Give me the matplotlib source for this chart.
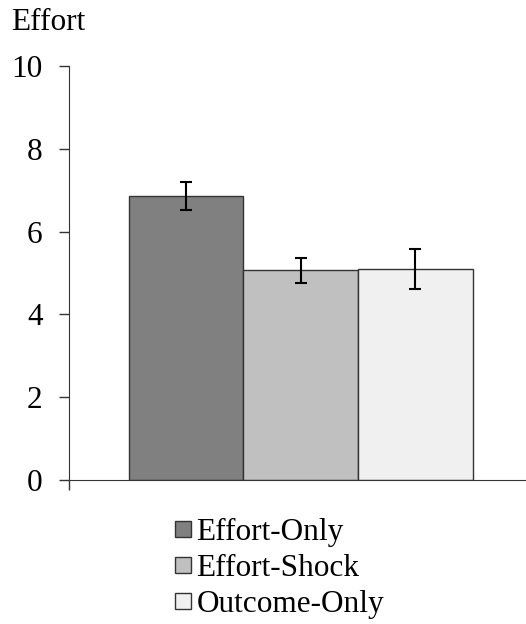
import matplotlib.pyplot as plt
from matplotlib.lines import Line2D

plt.rcParams['font.family'] = ['Liberation Serif', 'DejaVu Serif']

groups = ['Effort-Only', 'Effort-Shock', 'Outcome-Only']
means = [6.86, 5.07, 5.09]
errors = [0.345, 0.30, 0.485]
colors = ['#808080', '#c0c0c0', '#f0f0f0']
yticks = [0, 2, 4, 6, 8, 10]

fig = plt.figure(figsize=(5.26, 6.24), dpi=100)
ax = fig.add_axes([0.131, 0.2308, 0.869, 0.6634])

x = list(range(len(groups)))
ax.bar(x, means, width=1.0, color=colors, edgecolor='#333333', linewidth=1.0)
ax.errorbar(x, means, yerr=errors, fmt='none', ecolor='black',
            elinewidth=1.5, capsize=4.5, capthick=1.5)

xmin, xmax = -1.02, 2.964
ax.set_xlim(xmin, xmax)
ax.set_ylim(0, 10)
ax.set_yticks(yticks)
# single tick where the value axis meets the category axis
ax.set_xticks([xmin])
ax.set_xticklabels([''])
ax.spines['top'].set_visible(False)
ax.spines['right'].set_visible(False)
ax.spines['left'].set_color('#333333')
ax.spines['bottom'].set_color('#333333')
ax.tick_params(axis='y', direction='out', length=7, width=1, colors='#333333',
               labelcolor='black', labelsize=22.5, pad=12)
ax.tick_params(axis='x', direction='out', length=7, width=1, colors='#333333')

fig.text(0.022, 0.964, 'Effort', fontsize=22.5, ha='left', va='center')

handles = [Line2D([], [], marker='s', linestyle='none', markersize=11,
                  markerfacecolor=c, markeredgecolor='#333333', markeredgewidth=1)
           for c in colors]
fig.legend(handles, groups, loc='upper left', bbox_to_anchor=(0.325, 0.170),
           frameon=False, fontsize=22.5, handletextpad=0.02, labelspacing=0.22,
           handlelength=0.8, borderaxespad=0, borderpad=0)

fig.savefig('out.png', dpi=100)
